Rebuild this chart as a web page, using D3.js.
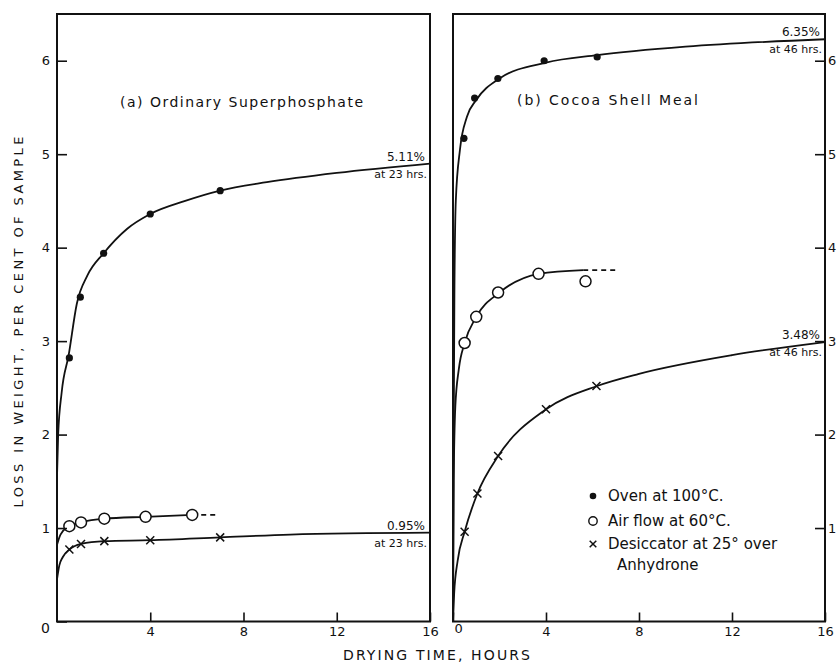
<!DOCTYPE html>
<html>
<head>
  <meta charset="utf-8">
  <script src="https://d3js.org/d3.v7.min.js"></script>
  <style>
  body {
    margin:0;
    background:#fff;
  }
  svg {
    display:block;
    font-family:"DejaVu Sans", sans-serif;
    fill:#111;
  }
  .frame {
    fill:none;
    stroke:#111;
    stroke-width:2;
  }
  .curve {
    fill:none;
    stroke:#111;
    stroke-width:1.8;
  }
  .dash {
    fill:none;
    stroke:#111;
    stroke-width:1.8;
    stroke-dasharray:5,4;
  }
  .axis text {
    font-size:13px;
    fill:#111;
    font-family:"DejaVu Sans", sans-serif;
  }
  .axis line {
    stroke:#111;
    stroke-width:1.6;
  }
</style>
</head>
<body>
<script>

  // tick values
  var yTicksLeft = [0, 1, 2, 3, 4, 5, 6];
  var yTicksRight = [1, 2, 3, 4, 5, 6];
  var xTicksLeft = [4, 8, 12, 16];
  var xTicksRight = [0, 4, 8, 12, 16];

  // (a) Ordinary Superphosphate -- measured points [hours, % loss]
  var aOvenPts = [[0.53, 2.82], [1.0, 3.47], [2.0, 3.94], [4.0, 4.36], [7.0, 4.61]];
  var aAirPts = [[0.53, 1.02], [1.03, 1.06], [2.03, 1.10], [3.8, 1.12], [5.8, 1.14]];
  var aDesPts = [[0.53, 0.77], [1.03, 0.83], [2.03, 0.86], [4.0, 0.87], [7.0, 0.90]];
  // fitted curves as drawn
  var aOvenCurve = [[0, 1.55], [0.05, 2.0], [0.2, 2.45], [0.5, 2.85], [0.85, 3.4], [1.3, 3.7], [2.0, 3.94],
                    [3.0, 4.2], [4.0, 4.36], [5.5, 4.5], [7.0, 4.61], [9.0, 4.7], [12.0, 4.8], [16.0, 4.9]];
  var aAirCurve = [[0, 0.82], [0.15, 0.93], [0.53, 1.02], [1.03, 1.06], [2.03, 1.10], [3.8, 1.12], [5.8, 1.14]];
  var aAirDash = [[5.8, 1.14], [6.9, 1.14]];
  var aDesCurve = [[0, 0.45], [0.1, 0.6], [0.25, 0.69], [0.53, 0.77], [1.03, 0.83], [2.03, 0.86], [4.0, 0.87],
                   [7.0, 0.90], [10.0, 0.93], [16.0, 0.95]];

  // (b) Cocoa Shell Meal
  var bOvenPts = [[0.47, 5.17], [0.93, 5.6], [1.93, 5.81], [3.92, 6.0], [6.2, 6.04]];
  var bAirPts = [[0.5, 2.98], [1.0, 3.26], [1.94, 3.52], [3.68, 3.72], [5.7, 3.64]];
  var bDesPts = [[0.5, 0.96], [1.05, 1.37], [1.94, 1.77], [4.0, 2.27], [6.17, 2.52]];
  var bOvenCurve = [[0, 0], [0.02, 1.5], [0.06, 3.5], [0.12, 4.5], [0.3, 5.05], [0.6, 5.4], [1.0, 5.58],
                    [2.0, 5.81], [4.0, 5.98], [6.2, 6.06], [10.0, 6.15], [16.0, 6.23]];
  var bAirCurve = [[0, 0], [0.03, 1.5], [0.1, 2.3], [0.25, 2.7], [0.5, 2.98], [1.0, 3.26], [2.0, 3.52],
                   [3.7, 3.72], [5.6, 3.76]];
  var bAirDash = [[5.6, 3.76], [7.0, 3.76]];
  var bDesCurve = [[0, 0], [0.05, 0.3], [0.2, 0.65], [0.5, 0.96], [1.05, 1.37], [1.94, 1.77], [4.0, 2.27],
                   [6.2, 2.52], [8.0, 2.65], [12.0, 2.85], [16.0, 2.99]];

  // end-of-curve notes
  var aNotes = [["5.11%", "at 23 hrs."], ["0.95%", "at 23 hrs."]];
  var bNotes = [["6.35%", "at 46 hrs."], ["3.48%", "at 46 hrs."]];

  var legendLabels = [["Oven at 100°C."], ["Air flow at 60°C."], ["Desiccator at 25° over", "Anhydrone"]];

  var W = 839, H = 663;

  var svg = d3.select("body").append("svg")
    .attr("width", W)
    .attr("height", H);

  var y = d3.scaleLinear().domain([0, 6.5]).range([621.5, 14]);
  var xA = d3.scaleLinear().domain([0, 16]).range([57, 430]);
  var xB = d3.scaleLinear().domain([0, 16]).range([453, 825]);

  function frame(x) {
    svg.append("rect")
      .attr("class", "frame")
      .attr("x", x(0))
      .attr("y", y(6.5))
      .attr("width", x(16) - x(0))
      .attr("height", y(0) - y(6.5));
  }

  function curve(x, pts, cls) {
    var line = d3.line()
      .x(d => x(d[0]))
      .y(d => y(d[1]))
      .curve(d3.curveMonotoneX);
    svg.append("path")
      .attr("class", cls || "curve")
      .attr("d", line(pts));
  }

  function dots(x, pts) {
    svg.append("g").selectAll("circle")
      .data(pts)
      .enter().append("circle")
      .attr("cx", d => x(d[0]))
      .attr("cy", d => y(d[1]))
      .attr("r", 3.6)
      .attr("fill", "#111");
  }

  function rings(x, pts) {
    svg.append("g").selectAll("circle")
      .data(pts)
      .enter().append("circle")
      .attr("cx", d => x(d[0]))
      .attr("cy", d => y(d[1]))
      .attr("r", 5.5)
      .attr("fill", "#fff")
      .attr("stroke", "#111")
      .attr("stroke-width", 1.5);
  }

  function crossPath(cx, cy, s) {
    return "M" + (cx - s) + "," + (cy - s) + "L" + (cx + s) + "," + (cy + s) +
           "M" + (cx - s) + "," + (cy + s) + "L" + (cx + s) + "," + (cy - s);
  }

  function crosses(x, pts) {
    svg.append("g").selectAll("path")
      .data(pts)
      .enter().append("path")
      .attr("d", d => crossPath(x(d[0]), y(d[1]), 4))
      .attr("stroke", "#111")
      .attr("stroke-width", 1.5)
      .attr("fill", "none");
  }

  function notes(x, labels, curves) {
    labels.forEach((n, i) => {
      var end = curves[i][curves[i].length - 1];
      var cy = y(end[1]);
      svg.append("text")
        .attr("x", x(16) - 5)
        .attr("y", cy - 3)
        .attr("text-anchor", "end")
        .style("font-size", "12px")
        .text(n[0]);
      svg.append("text")
        .attr("x", x(16) - 3)
        .attr("y", cy + 14)
        .attr("text-anchor", "end")
        .style("font-size", "11px")
        .text(n[1]);
    });
  }

  // panel (a)
  curve(xA, aOvenCurve);
  curve(xA, aAirCurve);
  curve(xA, aAirDash, "dash");
  curve(xA, aDesCurve);
  dots(xA, aOvenPts);
  rings(xA, aAirPts);
  crosses(xA, aDesPts);
  frame(xA);

  // panel (b)
  curve(xB, bOvenCurve);
  curve(xB, bAirCurve);
  curve(xB, bAirDash, "dash");
  curve(xB, bDesCurve);
  dots(xB, bOvenPts);
  rings(xB, bAirPts);
  crosses(xB, bDesPts);
  frame(xB);

  // axes
  var fmt = d3.format("d");

  var ayAxis = svg.append("g")
    .attr("class", "axis")
    .attr("transform", "translate(" + xA(0) + ",0)")
    .call(d3.axisLeft(y).tickValues(yTicksLeft).tickFormat(fmt).tickSize(-10).tickPadding(7));
  ayAxis.select(".domain").remove();
  ayAxis.selectAll(".tick").filter(d => d === 0).select("text").attr("dy", "0.75em").style("font-size", "14px");

  var axAxis = svg.append("g")
    .attr("class", "axis")
    .attr("transform", "translate(0," + y(0) + ")")
    .call(d3.axisBottom(xA).tickValues(xTicksLeft).tickFormat(fmt).tickSize(-9).tickPadding(5));
  axAxis.select(".domain").remove();

  var byAxis = svg.append("g")
    .attr("class", "axis")
    .attr("transform", "translate(" + xB(16) + ",0)")
    .call(d3.axisRight(y).tickValues(yTicksRight).tickFormat(fmt).tickSize(-10).tickPadding(3));
  byAxis.select(".domain").remove();

  var bxAxis = svg.append("g")
    .attr("class", "axis")
    .attr("transform", "translate(0," + y(0) + ")")
    .call(d3.axisBottom(xB).tickValues(xTicksRight).tickFormat(fmt).tickSize(-9).tickPadding(5));
  bxAxis.select(".domain").remove();
  bxAxis.selectAll(".tick").filter(d => d === 0).select("text").attr("dx", "0.4em").attr("dy", "0.5em");

  // notes at curve ends
  notes(xA, aNotes, [aOvenCurve, aDesCurve]);
  notes(xB, bNotes, [bOvenCurve, bDesCurve]);

  // panel titles
  svg.append("text")
    .attr("x", 120).attr("y", 107)
    .attr("textLength", 243).attr("lengthAdjust", "spacing")
    .style("font-size", "14px")
    .text("(a) Ordinary Superphosphate");
  svg.append("text")
    .attr("x", 517).attr("y", 105)
    .attr("textLength", 181).attr("lengthAdjust", "spacing")
    .style("font-size", "14px")
    .text("(b) Cocoa Shell Meal");

  // legend
  var legY = [501, 526, 549];
  var legend = svg.append("g");
  legendLabels.forEach((lines, i) => {
    lines.forEach((t, j) => {
      legend.append("text")
        .attr("x", j === 0 ? 608 : 617)
        .attr("y", legY[i] + j * 21)
        .style("font-size", "15px")
        .text(t);
    });
  });
  legend.append("circle").attr("cx", 593).attr("cy", legY[0] - 5).attr("r", 3.3).attr("fill", "#111");
  legend.append("circle").attr("cx", 593).attr("cy", legY[1] - 5).attr("r", 4.2)
    .attr("fill", "#fff").attr("stroke", "#111").attr("stroke-width", 1.4);
  legend.append("path").attr("d", crossPath(593, legY[2] - 5, 3.3))
    .attr("stroke", "#111").attr("stroke-width", 1.5);

  // axis titles
  svg.append("text")
    .attr("transform", "translate(23,322) rotate(-90)")
    .attr("text-anchor", "middle")
    .attr("textLength", 371).attr("lengthAdjust", "spacing")
    .style("font-size", "13px")
    .text("LOSS IN WEIGHT, PER CENT OF SAMPLE");
  svg.append("text")
    .attr("x", 343).attr("y", 660)
    .attr("textLength", 187).attr("lengthAdjust", "spacing")
    .style("font-size", "14px")
    .text("DRYING TIME, HOURS");

</script>
</body>
</html>
